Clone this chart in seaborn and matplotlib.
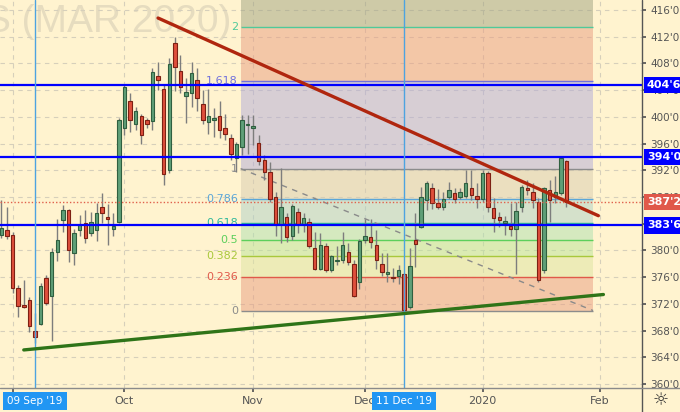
import numpy as np
import pandas as pd
import matplotlib
matplotlib.use('Agg')
import matplotlib.pyplot as plt
import matplotlib.transforms as mtransforms
from matplotlib.lines import Line2D
from matplotlib.ticker import FuncFormatter
import seaborn as sns

# corn futures (MAR 2020), daily bars from 29 Aug 2019
holidays = ['2019-09-02', '2019-11-28', '2019-12-25', '2020-01-01', '2020-01-20']
days = pd.bdate_range('2019-08-29', '2020-02-28')
days = days[~days.isin(pd.to_datetime(holidays))]

opens = [382.3, 383.0, 382.3, 374.3, 371.8, 372.6, 368.0, 369.0, 375.9, 373.2,
         379.7, 384.6, 386.1, 379.6, 383.0, 384.1, 382.6, 383.0, 386.5, 385.0,
         383.2, 384.3, 398.4, 402.4, 399.0, 400.1, 399.6, 399.4, 406.1, 404.1,
         392.0, 411.1, 406.9, 403.1, 403.6, 405.5, 401.9, 399.3, 399.6, 400.1,
         398.4, 396.9, 393.8, 395.5, 398.8, 398.4, 396.1, 393.5, 391.8, 388.0,
         384.0, 385.0, 382.2, 385.8, 384.0, 384.3, 380.3, 377.2, 380.7, 377.0,
         378.4, 378.5, 379.7, 378.0, 375.2, 381.6, 382.0, 380.8, 378.0, 376.4,
         376.0, 376.1, 376.5, 371.5, 381.6, 383.5, 387.6, 389.3, 387.1, 386.5,
         388.0, 388.6, 388.0, 388.2, 389.3, 388.2, 387.7, 391.6, 386.3, 385.0,
         384.1, 383.7, 383.2, 386.5, 389.4, 388.8, 387.3, 377.0, 389.1, 388.0,
         388.6, 393.4]
highs = [387.6, 386.5, 382.8, 374.8, 375.6, 373.0, 370.6, 375.1, 376.3, 380.4,
         384.7, 386.8, 386.2, 383.2, 385.3, 386.1, 385.8, 387.1, 388.6, 387.0,
         385.6, 399.9, 404.9, 403.6, 401.5, 400.5, 399.9, 407.3, 408.2, 404.8,
         408.8, 411.9, 409.3, 405.8, 408.2, 407.3, 404.0, 404.1, 401.4, 402.4,
         400.5, 397.5, 396.3, 400.3, 400.3, 400.3, 397.3, 394.3, 393.3, 388.8,
         392.3, 385.6, 387.0, 386.3, 385.6, 384.8, 382.8, 382.6, 381.1, 379.3,
         380.6, 382.8, 381.1, 378.6, 381.7, 384.7, 384.7, 383.0, 379.6, 379.6,
         377.3, 377.8, 376.6, 380.3, 385.6, 389.5, 390.4, 390.1, 389.2, 388.8,
         390.3, 389.3, 389.3, 392.0, 392.0, 390.1, 392.0, 391.9, 387.8, 385.8,
         385.2, 387.1, 387.2, 389.8, 390.5, 390.1, 387.8, 389.5, 390.5, 391.1,
         394.0, 393.5]
lows = [381.9, 381.7, 373.7, 370.1, 371.4, 367.8, 366.1, 368.8, 371.8, 366.4,
        378.4, 382.8, 378.2, 377.8, 382.1, 381.1, 382.2, 381.4, 384.1, 380.8,
        382.1, 384.1, 397.3, 397.8, 398.0, 396.0, 398.3, 398.1, 404.0, 389.8,
        391.6, 403.8, 403.5, 399.1, 401.5, 400.9, 398.9, 397.5, 397.0, 396.8,
        396.5, 393.6, 391.8, 394.3, 394.5, 395.8, 392.8, 390.5, 387.3, 382.1,
        381.1, 381.3, 381.5, 382.6, 382.8, 380.3, 377.0, 377.0, 376.7, 376.8,
        377.8, 378.1, 377.8, 373.0, 374.2, 381.1, 380.3, 377.2, 376.2, 375.2,
        375.2, 375.0, 371.0, 371.2, 377.5, 383.3, 386.1, 386.2, 386.2, 386.0,
        387.7, 387.1, 387.7, 387.9, 387.6, 386.3, 387.3, 385.8, 382.8, 383.5,
        382.3, 382.2, 376.5, 385.8, 388.3, 386.3, 375.2, 376.6, 384.3, 387.1,
        388.3, 386.5]
closes = [383.3, 382.1, 374.3, 371.7, 371.6, 368.75, 367.1, 374.6, 372.2, 379.8,
          381.5, 386.1, 380.0, 382.6, 383.8, 381.8, 384.3, 385.6, 385.6, 384.7,
          383.7, 399.6, 404.5, 399.6, 400.9, 397.25, 399.0, 406.7, 405.5, 391.45,
          407.9, 407.5, 404.4, 403.7, 406.6, 402.9, 399.5, 400.1, 399.9, 398.1,
          397.5, 394.5, 396.0, 399.6, 399.0, 398.7, 393.4, 391.8, 387.7, 384.0,
          386.5, 382.0, 386.7, 384.0, 384.8, 380.7, 377.2, 380.8, 377.0, 379.1,
          378.5, 380.8, 378.2, 373.2, 381.4, 382.1, 381.2, 378.5, 376.7, 376.7,
          375.8, 377.0, 371.1, 377.7, 381.0, 388.0, 390.1, 387.1, 386.5, 387.7,
          389.0, 387.7, 388.7, 390.1, 388.3, 387.7, 391.6, 386.5, 384.8, 384.5,
          384.4, 383.2, 385.9, 389.5, 389.0, 387.6, 375.6, 389.3, 387.6, 388.8,
          393.8, 387.25]

# drawings
key_levels = [404.75, 394.0, 383.75]
last_price = 387.25
fib_low, fib_high = 371.0, 392.25
fib_ratios = [0, 0.236, 0.382, 0.5, 0.618, 0.786, 1, 1.618, 2, 2.618]
fib_names = ['0', '0.236', '0.382', '0.5', '0.618', '0.786', '1', '1.618', '2', '']
fib_x = [42.75, 105.75]
red_trend_x, red_trend_y = [28.0, 106.7], [414.8, 385.2]
green_trend_x, green_trend_y = [4.0, 107.6], [365.1, 373.4]
marked_days = ['2019-09-09', '2019-12-11']

BG = '#fff3cf'
fib_line_colors = ['#8c8c8c', '#e0594a', '#a9c83c', '#5ccf5c', '#2fb89a', '#5aa6d8',
                   '#8c8c8c', '#7070dc', '#4fc99a', '#4fc99a']
fib_fill_colors = ['#e99d81', '#dde5a1', '#b9e599', '#ade1b1', '#add1c9', '#d9cdb1',
                   '#b1abd9', '#e99d81', '#9fa381']

sns.set_theme(style='white', rc={'axes.facecolor': BG, 'figure.facecolor': BG})
plt.rcParams['font.family'] = ['DejaVu Sans']

fig = plt.figure(figsize=(6.8, 4.12), dpi=100)
ax = fig.add_axes([0, 24 / 412, 642 / 680, 388 / 412])

o, h, l, c = map(np.array, (opens, highs, lows, closes))
x = np.arange(len(o))
up = c >= o

ax.vlines(x, l, h, colors='#7d7d7d', lw=1, zorder=3)
ax.bar(x, np.maximum(np.abs(c - o), 0.15), bottom=np.minimum(o, c), width=0.62,
       color=np.where(up, '#5f9f78', '#df4f3c'),
       edgecolor=np.where(up, '#2f5f3f', '#7d2013'), linewidth=0.8, zorder=4)

# fibonacci retracement
levels = [fib_low + r * (fib_high - fib_low) for r in fib_ratios]
for i in range(len(levels) - 1):
    ax.fill_between(fib_x, levels[i], levels[i + 1], color=fib_fill_colors[i],
                    alpha=0.5, lw=0, zorder=1)
for lev, name, col in zip(levels, fib_names, fib_line_colors):
    ax.hlines(lev, fib_x[0], fib_x[1], color=col, lw=1, zorder=2)
    ax.text(fib_x[0] - 0.45, lev, name, ha='right', va='center', color=col,
            fontsize=8, zorder=2)
ax.plot(fib_x, [fib_high, fib_low], ls=(0, (4, 4)), color='#8a8a8a', lw=1, zorder=2.5)

# trend lines
sns.lineplot(x=red_trend_x, y=red_trend_y, ax=ax, color='#b0260e', lw=2.4, zorder=6)
sns.lineplot(x=green_trend_x, y=green_trend_y, ax=ax, color='#2f7418', lw=2.4, zorder=6)

for v in key_levels:
    ax.axhline(v, color='#0000ff', lw=1.6, zorder=5)
ax.axhline(last_price, color='#e0604c', lw=1, ls=(0, (1, 1.5)), zorder=5)

pos = {d: i for i, d in enumerate(days)}
for d in marked_days:
    ax.axvline(pos[pd.Timestamp(d)], color='#4da3e0', lw=1, zorder=5)

# axes, ticks, grid
ax.set_xlim(-0.25, 114.5)
ax.set_ylim(359.4, 417.5)
month_idx = [i for i in range(1, 115) if days[i].month != days[i - 1].month]
month_lbl = ['2020' if days[i].month == 1 else days[i].strftime('%b') for i in month_idx]
ax.set_xticks(month_idx)
ax.set_xticklabels(month_lbl)
ax.set_yticks(np.arange(360, 417, 4))
ax.yaxis.tick_right()
ax.yaxis.set_major_formatter(FuncFormatter(lambda v, p: f"{int(v)}'{int(round((v - int(v)) * 8))}"))
ax.tick_params(axis='x', length=3, pad=2.5, colors='#555555', labelsize=8, direction='out', bottom=True)
ax.tick_params(axis='y', length=3, pad=3, colors='#555555', labelsize=7.5, direction='out', right=True)
ax.grid(True, color='#d6cfbb', ls=(0, (4, 4)), lw=0.8)
ax.set_axisbelow(True)
for s in ax.spines.values():
    s.set_visible(False)

fig.add_artist(Line2D([642 / 680, 642 / 680], [0, 1], color='#555555', lw=1))
fig.add_artist(Line2D([0, 1], [24 / 412, 24 / 412], color='#8a8a8a', lw=1))

ax.text(0.361, 0.943, 'S (MAR 2020)', transform=ax.transAxes, ha='right', va='center',
        fontsize=28, family='Liberation Sans', color='#e6dcbf', zorder=0.5)

def price_fmt(v):
    return f"{int(v)}'{int(round((v - int(v)) * 8))}"

for v, fc in [(key_levels[0], '#0000ff'), (key_levels[1], '#0000ff'),
              (key_levels[2], '#0000ff'), (last_price, '#e0584a')]:
    ax.annotate(price_fmt(v), xy=(1.0, v), xycoords=('axes fraction', 'data'),
                xytext=(3.5, 0), textcoords='offset points', ha='left', va='center',
                color='white', fontweight='bold', fontsize=8,
                bbox=dict(boxstyle='square,pad=0.3', fc=fc, ec='none'),
                annotation_clip=False, zorder=10)

trans = mtransforms.blended_transform_factory(ax.transData, ax.transAxes)
for d in marked_days:
    t = pd.Timestamp(d)
    ax.text(pos[t], -0.034, t.strftime("%d %b '%y"), transform=trans, ha='center',
            va='center', color='white', fontsize=7.5, clip_on=False, zorder=10,
            bbox=dict(boxstyle='square,pad=0.4', fc='#2196f3', ec='none'))

fig.text(661 / 680, 12 / 412, '\u263c', ha='center', va='center', fontsize=13, color='#333333')

fig.savefig('out.png', dpi=100, facecolor=BG)
